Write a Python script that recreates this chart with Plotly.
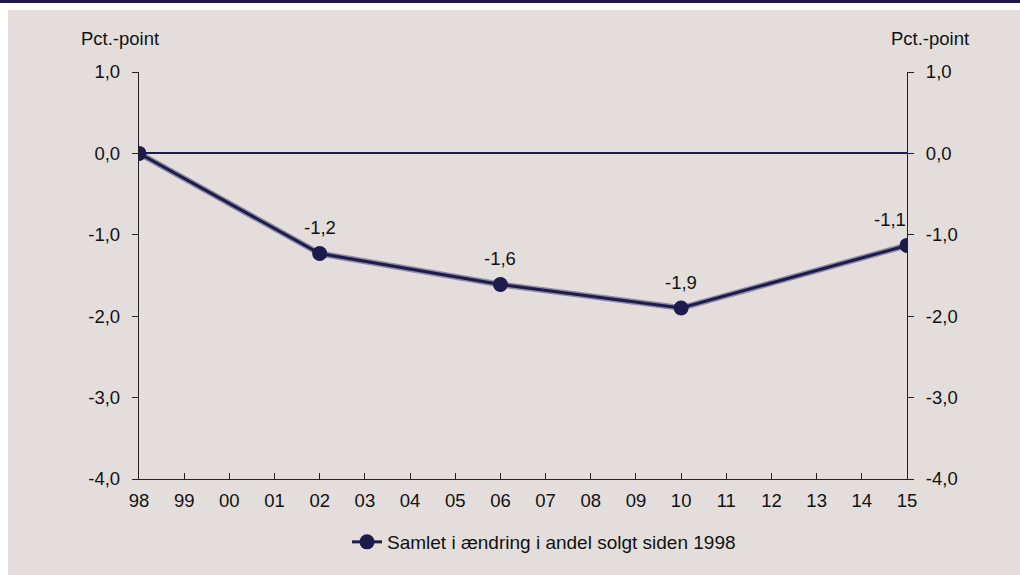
import plotly.graph_objects as go

# data
years = [1998, 2002, 2006, 2010, 2015]
values = [0.0, -1.23, -1.61, -1.90, -1.13]
labels = ["", "-1,2", "-1,6", "-1,9", "-1,1"]
tick_years = list(range(1998, 2016))
tick_text = [str(y)[2:] for y in tick_years]
y_ticks = [1, 0, -1, -2, -3, -4]
y_tick_text = ["1,0", "0,0", "-1,0", "-2,0", "-3,0", "-4,0"]
series_name = "Samlet i ændring i andel solgt siden 1998"
y_title = "Pct.-point"

NAVY = "#1c1b4b"
BG = "#e3dedc"
FONT = "Liberation Sans, Arial, sans-serif"
FS = 18.5

W, H = 1020, 575
L, R, T, B = 139, 113, 72, 96
pw, ph = W - L - R, H - T - B

def px_x(px):
    return (px - L) / pw

def px_y(py):
    return (H - B - py) / ph

fig = go.Figure()
# shadow under the line
fig.add_trace(go.Scatter(x=years, y=values, mode="lines",
                         line=dict(color="#8e8ba3", width=6),
                         showlegend=False, hoverinfo="skip"))
fig.add_trace(go.Scatter(x=years, y=values, mode="lines+markers",
                         name=series_name,
                         line=dict(color=NAVY, width=3),
                         marker=dict(color=NAVY, size=15)))
# invisible trace to activate right axis
fig.add_trace(go.Scatter(x=years, y=values, yaxis="y2", mode="lines",
                         line=dict(width=0), opacity=0,
                         showlegend=False, hoverinfo="skip"))

for i, (x, v, t) in enumerate(zip(years, values, labels)):
    if t:
        fig.add_annotation(x=x, y=v, text=t, showarrow=False, yshift=26,
                           xshift=(-17 if i == len(years) - 1 else 0),
                           font=dict(size=FS, color="#111", family=FONT))

fig.add_annotation(x=px_x(120), y=px_y(38), xref="paper", yref="paper",
                   xanchor="center", yanchor="middle",
                   text=y_title, showarrow=False,
                   font=dict(size=FS, color="#111", family=FONT))
fig.add_annotation(x=px_x(930), y=px_y(38), xref="paper", yref="paper",
                   xanchor="center", yanchor="middle",
                   text=y_title, showarrow=False,
                   font=dict(size=FS, color="#111", family=FONT))

shapes = [
    dict(type="rect", xref="paper", yref="paper", x0=px_x(-5), x1=px_x(8),
         y0=px_y(580), y1=px_y(-5), fillcolor="white", line_width=0, layer="below"),
    dict(type="rect", xref="paper", yref="paper", x0=px_x(-5), x1=px_x(1030),
         y0=px_y(10), y1=px_y(-5), fillcolor="white", line_width=0, layer="below"),
    dict(type="rect", xref="paper", yref="paper", x0=px_x(-5), x1=px_x(1030),
         y0=px_y(3), y1=px_y(-5), fillcolor=NAVY, line_width=0, layer="above"),
]

axis_common = dict(showgrid=False, showline=True, linecolor="#222", linewidth=1.3,
                   tickfont=dict(size=FS, color="#111", family=FONT))

fig.update_layout(
    width=W, height=H,
    margin=dict(l=L, r=R, t=T, b=B),
    paper_bgcolor=BG, plot_bgcolor=BG,
    separators=",.",
    shapes=shapes,
    showlegend=True,
    legend=dict(orientation="h", x=px_x(544), xanchor="center",
                y=px_y(542), yanchor="middle", bgcolor="rgba(0,0,0,0)",
                font=dict(size=19, color="#111", family=FONT)),
    xaxis=dict(**axis_common, range=[1998, 2015], tickmode="array",
               tickvals=tick_years, ticktext=tick_text,
               ticks="inside", ticklen=6, tickcolor="#222", zeroline=False,
               ticklabelstandoff=5),
    yaxis=dict(**axis_common, range=[-4, 1], tickmode="array",
               tickvals=y_ticks, ticktext=y_tick_text,
               ticks="outside", ticklen=6, tickcolor="#222",
               zeroline=True, zerolinecolor=NAVY, zerolinewidth=1.5,
               ticklabelstandoff=8),
    yaxis2=dict(**axis_common, range=[-4, 1], tickmode="array",
                tickvals=y_ticks, ticktext=y_tick_text,
                overlaying="y", side="right", anchor="x",
                ticks="outside", ticklen=6, tickcolor="#222", zeroline=False,
                ticklabelstandoff=8),
)

fig.write_html("out.html")
